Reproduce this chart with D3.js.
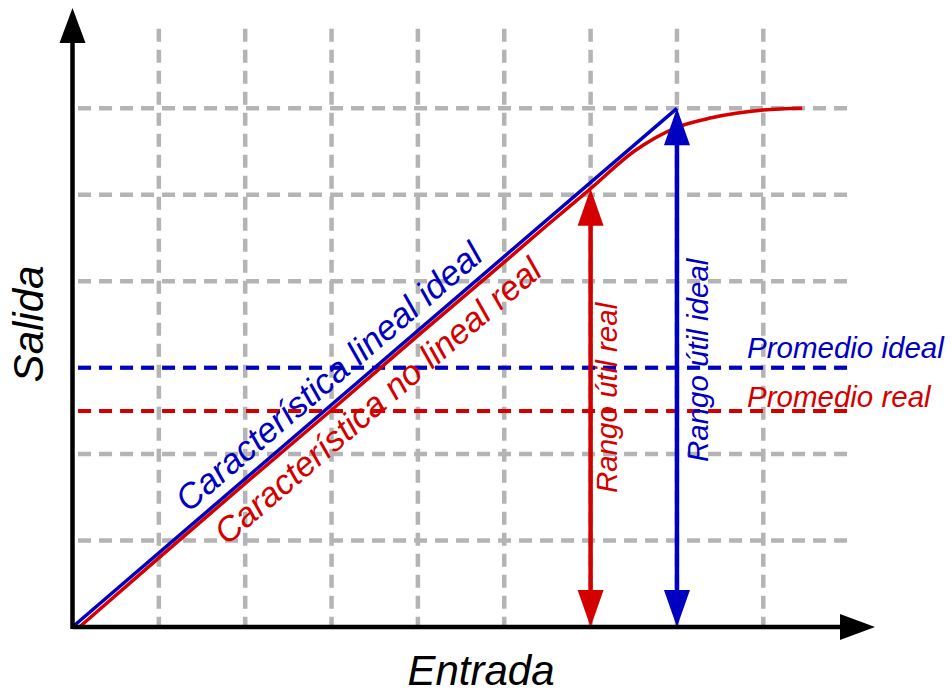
<!DOCTYPE html>
<html>
<head>
<meta charset="utf-8">
<script src="https://cdn.jsdelivr.net/npm/d3@7"></script>
<style>
  html, body { margin: 0; padding: 0; background: #fff; }
  svg { display: block; }
  text { font-family: "Liberation Sans", Arial, sans-serif; font-style: italic; }
</style>
</head>
<body>
<svg id="chart" width="952" height="693"></svg>
<script>
// ---- data (grid units) ----
const gridX = [1, 2, 3, 4, 5, 6, 7, 8];
const gridY = [1, 2, 3, 4, 5, 6];
const idealX = [0, 7];
const idealY = [0, 6];
const realX = [0.08, 1, 2, 3, 4, 5, 5.5, 6, 6.5, 7, 7.4, 8, 8.45];
const realY = [0, 0.80, 1.66, 2.51, 3.37, 4.22, 4.65, 5.07, 5.50, 5.78, 5.89, 5.98, 6.0];
const promedioIdeal = 3;
const promedioReal = 2.5;
const rangoRealX = 6, rangoRealTop = 5.07;
const rangoIdealX = 7, rangoIdealTop = 6;
const labels = {
  xAxis: "Entrada", yAxis: "Salida",
  ideal: "Característica lineal ideal", real: "Característica no lineal real",
  rangoReal: "Rango útil real", rangoIdeal: "Rango útil ideal",
  promIdeal: "Promedio ideal", promReal: "Promedio real"
};

const BLUE = "#0000c0", RED = "#d40000", GRID = "#b4b4b4";

const svg = d3.select("#chart");
const x = d3.scaleLinear().domain([0, 9]).range([72.5, 72.5 + 9 * 86.35]);
const y = d3.scaleLinear().domain([0, 6]).range([627, 627 - 6 * 86.45]);

// grid
const g = svg.append("g");
g.selectAll(".gv").data(gridX).enter().append("line")
  .attr("x1", d => x(d)).attr("x2", d => x(d))
  .attr("y1", y(6.92)).attr("y2", y(0) + 2)
  .attr("stroke", GRID).attr("stroke-width", 4.5).attr("stroke-dasharray", "13,8");
g.selectAll(".gh").data(gridY).enter().append("line")
  .attr("x1", x(8.97)).attr("x2", x(0))
  .attr("y1", d => y(d)).attr("y2", d => y(d))
  .attr("stroke", GRID).attr("stroke-width", 4.5).attr("stroke-dasharray", "13,8");

// average lines
[[promedioIdeal, BLUE], [promedioReal, RED]].forEach(([v, c]) => {
  svg.append("line")
    .attr("x1", x(8.97)).attr("x2", x(0))
    .attr("y1", y(v)).attr("y2", y(v))
    .attr("stroke", c).attr("stroke-width", 4).attr("stroke-dasharray", "13,8");
});

// curves
const line = d3.line().x(d => x(d[0])).y(d => y(d[1])).curve(d3.curveMonotoneX);
svg.append("path").datum(realX.map((v, i) => [v, realY[i]]))
  .attr("d", line).attr("fill", "none").attr("stroke", RED).attr("stroke-width", 3.5);
svg.append("path").datum(idealX.map((v, i) => [v, idealY[i]]))
  .attr("d", d3.line().x(d => x(d[0])).y(d => y(d[1])))
  .attr("fill", "none").attr("stroke", BLUE).attr("stroke-width", 3.5);

// double arrows
function dblArrow(xv, top, color) {
  const px = x(xv), y0 = y(0), y1 = y(top);
  const L = 37, W = 13;
  svg.append("line").attr("x1", px).attr("x2", px).attr("y1", y0 - L + 2).attr("y2", y1 + L - 2)
    .attr("stroke", color).attr("stroke-width", 4.5);
  svg.append("path").attr("d", `M${px},${y1} L${px - W},${y1 + L} L${px + W},${y1 + L} Z`).attr("fill", color);
  svg.append("path").attr("d", `M${px},${y0} L${px - W},${y0 - L} L${px + W},${y0 - L} Z`).attr("fill", color);
}
dblArrow(rangoRealX, rangoRealTop, RED);
dblArrow(rangoIdealX, rangoIdealTop, BLUE);

// axes
const ox = x(0), oy = y(0);
svg.append("line").attr("x1", ox).attr("x2", 842).attr("y1", oy).attr("y2", oy)
  .attr("stroke", "#000").attr("stroke-width", 4.5);
svg.append("path").attr("d", `M875,${oy} L840,${oy - 13} L840,${oy + 13} Z`).attr("fill", "#000");
svg.append("line").attr("x1", ox).attr("x2", ox).attr("y1", oy + 2).attr("y2", 41)
  .attr("stroke", "#000").attr("stroke-width", 4.5);
svg.append("path").attr("d", `M${ox},8 L${ox - 13},43 L${ox + 13},43 Z`).attr("fill", "#000");

// axis labels
svg.append("text").attr("x", 481).attr("y", 685).attr("text-anchor", "middle")
  .attr("font-size", 42).attr("fill", "#000").text(labels.xAxis);
svg.append("text").attr("transform", "translate(43,324) rotate(-90)").attr("text-anchor", "middle")
  .attr("font-size", 42).attr("fill", "#000").text(labels.yAxis);

// diagonal labels
const ang = Math.atan2(y(0) - y(6), x(7) - x(0));
const deg = ang * 180 / Math.PI;
const dir = [Math.cos(ang), -Math.sin(ang)], nrm = [-Math.sin(ang), -Math.cos(ang)];
function along(s, p) { return [ox + s * dir[0] + p * nrm[0], oy + s * dir[1] + p * nrm[1]]; }
const pb = along(162, 11);
svg.append("text").attr("transform", `translate(${pb[0]},${pb[1]}) rotate(${-deg})`)
  .attr("font-size", 35).attr("fill", BLUE).text(labels.ideal);
const pr = along(170, -39);
svg.append("text").attr("transform", `translate(${pr[0]},${pr[1]}) rotate(${-deg})`)
  .attr("font-size", 34.5).attr("fill", RED).text(labels.real);

// range labels
svg.append("text").attr("transform", `translate(617,493) rotate(-90)`)
  .attr("font-size", 29.5).attr("fill", RED).text(labels.rangoReal);
svg.append("text").attr("transform", `translate(708,462) rotate(-90)`)
  .attr("font-size", 29.5).attr("fill", BLUE).text(labels.rangoIdeal);

// average labels
svg.append("text").attr("x", 747).attr("y", 358).attr("font-size", 29.5).attr("fill", BLUE).text(labels.promIdeal);
svg.append("text").attr("x", 747).attr("y", 407).attr("font-size", 29.5).attr("fill", RED).text(labels.promReal);
</script>
</body>
</html>
